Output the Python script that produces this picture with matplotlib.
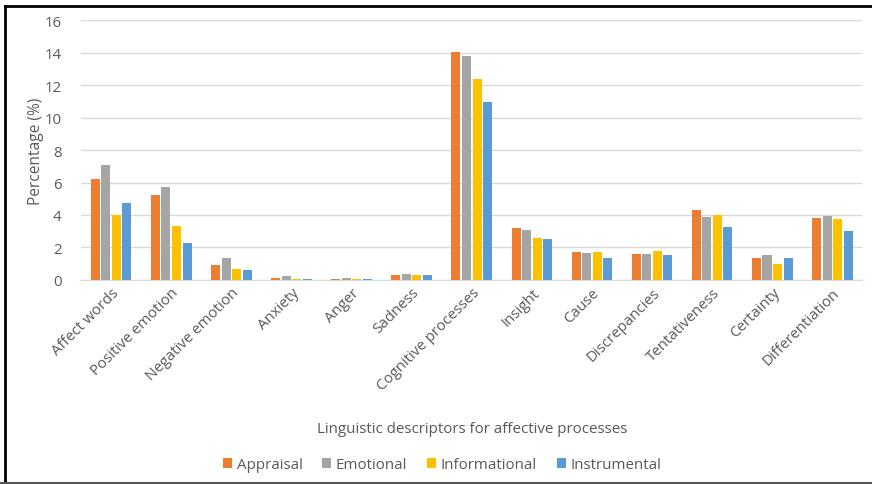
import matplotlib.pyplot as plt
import numpy as np
from matplotlib.lines import Line2D

#%% data

categories = ['Affect words', 'Positive emotion', 'Negative emotion', 'Anxiety', 'Anger',
              'Sadness', 'Cognitive processes', 'Insight', 'Cause', 'Discrepancies',
              'Tentativeness', 'Certainty', 'Differentiation']
appraisal = [6.2, 5.23, 0.93, 0.14, 0.02, 0.27, 14.07, 3.17, 1.73, 1.59, 4.3, 1.32, 3.79]
emotional = [7.1, 5.74, 1.32, 0.25, 0.1, 0.37, 13.8, 3.05, 1.63, 1.59, 3.87, 1.5, 3.93]
informational = [4.0, 3.31, 0.64, 0.03, 0.03, 0.31, 12.39, 2.57, 1.69, 1.77, 3.97, 0.95, 3.75]
instrumental = [4.73, 2.25, 0.6, 0.02, 0.02, 0.27, 10.95, 2.53, 1.36, 1.55, 3.23, 1.32, 2.99]
series_names = ['Appraisal', 'Emotional', 'Informational', 'Instrumental']
colors = ['#ed7d31', '#a5a5a5', '#ffc000', '#5b9bd5']

#%% plot

plt.rcParams['font.family'] = 'Open Sans'
txt = '#595959'

fig = plt.figure(figsize=(8.72, 4.85), dpi=100)
ax = fig.add_axes([0.093, 0.421, 0.896, 0.535])

x = np.arange(len(categories))
w = 0.15
offsets = [-1.5, -0.5, 0.5, 1.5]
for vals, name, col, off in zip([appraisal, emotional, informational, instrumental], series_names, colors, offsets):
    ax.bar(x + off * 0.175, vals, w, color=col, label=name, zorder=3)

ax.set_xlim(-0.5, len(categories) - 0.5)
ax.set_ylim(0, 16)
ax.set_yticks(np.arange(0, 17, 2))
ax.grid(axis='y', color='#d9d9d9', linewidth=1, zorder=0)
for s in ['top', 'right', 'left']:
    ax.spines[s].set_visible(False)
ax.spines['bottom'].set_color('#d9d9d9')
ax.tick_params(axis='both', length=0, colors=txt, labelsize=10.8)
ax.tick_params(axis='y', pad=14)
ax.set_xticks(x)
ax.set_xticklabels(categories, rotation=45, ha='right', rotation_mode='anchor')
ax.set_ylabel('Percentage (%)', color=txt, fontsize=11.2)
ax.yaxis.set_label_coords(-0.048, 0.5)
ax.set_xlabel('Linguistic descriptors for affective processes', color=txt, fontsize=10.9, labelpad=20)

leg = fig.legend(loc='center', bbox_to_anchor=(0.507, 0.04), ncol=4, frameon=False,
                 fontsize=10.9, handlelength=0.6, handleheight=0.6, handletextpad=0.3, columnspacing=1.3)
for t in leg.get_texts():
    t.set_color(txt)

# border around the image
fig.add_artist(Line2D([0.006, 0.006], [0.0, 0.986], color='black', linewidth=2))
fig.add_artist(Line2D([0.006, 1.0], [0.986, 0.986], color='black', linewidth=2))
fig.add_artist(Line2D([0.0, 1.0], [0.003, 0.003], color='#555555', linewidth=1.5))

plt.savefig('out.png', dpi=100)
plt.close()
